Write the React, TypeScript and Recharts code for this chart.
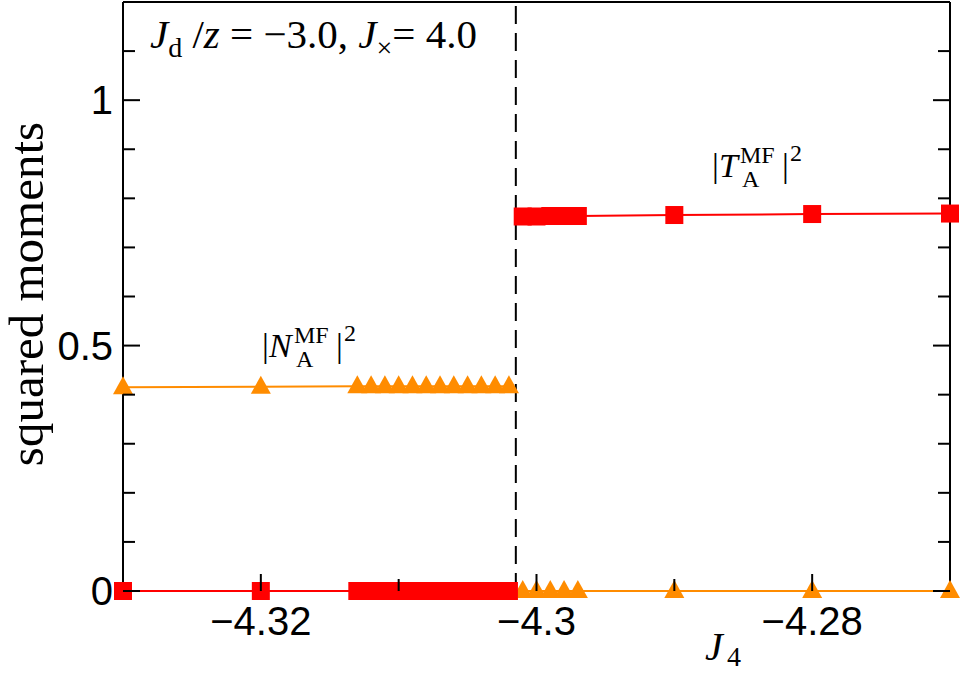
import { LineChart, Line, XAxis, YAxis, ReferenceLine } from 'recharts';

// J4 values where |N_A|^2 is finite (left of the transition)
const xLeft = [-4.33, -4.32, -4.313, -4.312, -4.311, -4.31, -4.309, -4.308, -4.307, -4.306, -4.305, -4.304, -4.303, -4.302];
const nLeft = [0.415, 0.416, 0.417, 0.417, 0.417, 0.417, 0.417, 0.417, 0.417, 0.417, 0.417, 0.417, 0.417, 0.417];
const tLeft = [0, 0, 0, 0, 0, 0, 0, 0, 0, 0, 0, 0, 0, 0];

// J4 values where |T_A|^2 is finite (right of the transition)
const xRight = [-4.301, -4.3, -4.299, -4.298, -4.297, -4.29, -4.28, -4.27];
const nRight = [0, 0, 0, 0, 0, 0, 0, 0];
const tRight = [0.763, 0.763, 0.764, 0.764, 0.764, 0.766, 0.768, 0.769];

const transition = -4.3015;

const xTicks = [-4.32, -4.31, -4.3, -4.29, -4.28];
const xLabelled = [-4.32, -4.3, -4.28];
const yTicks = [0, 0.1, 0.2, 0.3, 0.4, 0.5, 0.6, 0.7, 0.8, 0.9, 1, 1.1];
const yLabelled = [0, 0.5, 1];

const leftData = xLeft.map((x, i) => ({ x, n: nLeft[i], t: tLeft[i] }));
const rightData = xRight.map((x, i) => ({ x, n: nRight[i], t: tRight[i] }));

const RED = '#ff0000';
const ORANGE = '#ff8c00';
const SANS = '"Liberation Sans", Arial, sans-serif';
const SERIF = '"Liberation Serif", "Times New Roman", serif';
const MAJOR = 17;
const MINOR = 12;

const isMajor = (v: number, list: number[]) => list.some((m) => Math.abs(m - v) < 1e-9);
const fmt = (v: number) => String(v).replace('-', '\u2212');

const square = (p: any) => (
  <rect key={`s-${p.index}`} x={p.cx - 9} y={p.cy - 9} width={18} height={18} fill={RED} />
);
const triangle = (p: any) => (
  <polygon
    key={`t-${p.index}`}
    points={`${p.cx},${p.cy - 11} ${p.cx - 10},${p.cy + 7} ${p.cx + 10},${p.cy + 7}`}
    fill={ORANGE}
  />
);

const bottomTick = (p: any) => {
  const v = p.payload.value;
  const major = isMajor(v, xLabelled);
  return (
    <g>
      <line x1={p.x} y1={p.y} x2={p.x} y2={p.y - (major ? MAJOR : MINOR)} stroke="#000" strokeWidth={2} />
      {major && (
        <text x={p.x} y={p.y + 44} textAnchor="middle" fontFamily={SANS} fontSize={40} fill="#000">
          {fmt(v)}
        </text>
      )}
    </g>
  );
};
const topTick = (p: any) => {
  const major = isMajor(p.payload.value, xLabelled);
  return <line x1={p.x} y1={p.y} x2={p.x} y2={p.y + (major ? MAJOR : MINOR)} stroke="#000" strokeWidth={2} />;
};
const leftTick = (p: any) => {
  const v = p.payload.value;
  const major = isMajor(v, yLabelled);
  return (
    <g>
      <line x1={p.x} y1={p.y} x2={p.x + (major ? MAJOR : MINOR)} y2={p.y} stroke="#000" strokeWidth={2} />
      {major && (
        <text x={p.x - 10} y={p.y + 14} textAnchor="end" fontFamily={SANS} fontSize={40} fill="#000">
          {fmt(v)}
        </text>
      )}
    </g>
  );
};
const rightTick = (p: any) => {
  const major = isMajor(p.payload.value, yLabelled);
  return <line x1={p.x} y1={p.y} x2={p.x - (major ? MAJOR : MINOR)} y2={p.y} stroke="#000" strokeWidth={2} />;
};

// |X_A^MF|^2 with stacked sub/superscript
function MomentLabel({ x, y, letter, w }: { x: number; y: number; letter: string; w: number }) {
  const sx = x + 9 + w;
  const bar2 = sx + 42;
  return (
    <g fontFamily={SERIF} fill="#000">
      <text x={x} y={y} fontSize={34}>|</text>
      <text x={x + 7} y={y} fontSize={34} fontStyle="italic">{letter}</text>
      <text x={sx} y={y - 14} fontSize={24}>MF</text>
      <text x={sx + 2} y={y + 10} fontSize={24}>A</text>
      <text x={bar2} y={y} fontSize={34}>|</text>
      <text x={bar2 + 8} y={y - 16} fontSize={24}>2</text>
    </g>
  );
}

const axisLine = { stroke: '#000', strokeWidth: 2 };

export default function App() {
  return (
    <div style={{ position: 'absolute', left: 0, top: 0, width: 961, height: 675, background: '#fff' }}>
      <LineChart width={961} height={675} margin={{ top: 1, right: 10, bottom: 0, left: 0 }}>
        <XAxis
          xAxisId="b"
          dataKey="x"
          type="number"
          domain={[-4.33, -4.27]}
          ticks={xTicks}
          interval={0}
          height={84}
          tickSize={0}
          tickMargin={0}
          tickLine={false}
          axisLine={false}
          tick={bottomTick}
        />
        <XAxis
          xAxisId="t"
          orientation="top"
          type="number"
          domain={[-4.33, -4.27]}
          allowDataOverflow
          ticks={xTicks}
          interval={0}
          height={1}
          tickSize={0}
          tickMargin={0}
          tickLine={false}
          axisLine={axisLine}
          tick={topTick}
        />
        <YAxis
          yAxisId="l"
          type="number"
          domain={[0, 1.2]}
          ticks={yTicks}
          interval={0}
          width={123}
          tickSize={0}
          tickMargin={0}
          tickLine={false}
          axisLine={axisLine}
          tick={leftTick}
        />
        <YAxis
          yAxisId="r"
          orientation="right"
          type="number"
          domain={[0, 1.2]}
          allowDataOverflow
          ticks={yTicks}
          interval={0}
          width={1}
          tickSize={0}
          tickMargin={0}
          tickLine={false}
          axisLine={axisLine}
          tick={rightTick}
        />
        <Line xAxisId="b" yAxisId="l" data={leftData} dataKey="n" stroke={ORANGE} strokeWidth={2} dot={triangle} activeDot={false} isAnimationActive={false} />
        <Line xAxisId="b" yAxisId="l" data={rightData} dataKey="n" stroke={ORANGE} strokeWidth={2} dot={triangle} activeDot={false} isAnimationActive={false} />
        <Line xAxisId="b" yAxisId="l" data={leftData} dataKey="t" stroke={RED} strokeWidth={2} dot={square} activeDot={false} isAnimationActive={false} />
        <Line xAxisId="b" yAxisId="l" data={rightData} dataKey="t" stroke={RED} strokeWidth={2} dot={square} activeDot={false} isAnimationActive={false} />
        <ReferenceLine xAxisId="b" yAxisId="l" x={transition} stroke="#000" strokeWidth={2} strokeDasharray="18 9" />
      </LineChart>
      <svg width={961} height={675} style={{ position: 'absolute', left: 0, top: 0, pointerEvents: 'none' }}>
        <text x={150} y={48} fontFamily={SERIF} fontSize={41} fill="#000">
          <tspan fontStyle="italic">J</tspan>
          <tspan fontSize={28} dy={9}>d</tspan>
          <tspan dy={-9}> /</tspan>
          <tspan fontStyle="italic">z</tspan>
          <tspan> = {'\u2212'}3.0, </tspan>
          <tspan fontStyle="italic">J</tspan>
          <tspan fontSize={28} dy={9}>{'\u00d7'}</tspan>
          <tspan dy={-9}>= 4.0</tspan>
        </text>
        <MomentLabel x={712} y={177} letter="T" w={19} />
        <MomentLabel x={262} y={357} letter="N" w={23} />
        <text x={705} y={660} fontFamily={SERIF} fontSize={40} fontStyle="italic" fill="#000">J</text>
        <text x={727} y={666} fontFamily={SERIF} fontSize={28} fill="#000">4</text>
        <text
          x={43}
          y={294}
          transform="rotate(-90 43 294)"
          textAnchor="middle"
          fontFamily={SERIF}
          fontSize={49}
          fill="#000"
        >
          squared moments
        </text>
      </svg>
    </div>
  );
}
